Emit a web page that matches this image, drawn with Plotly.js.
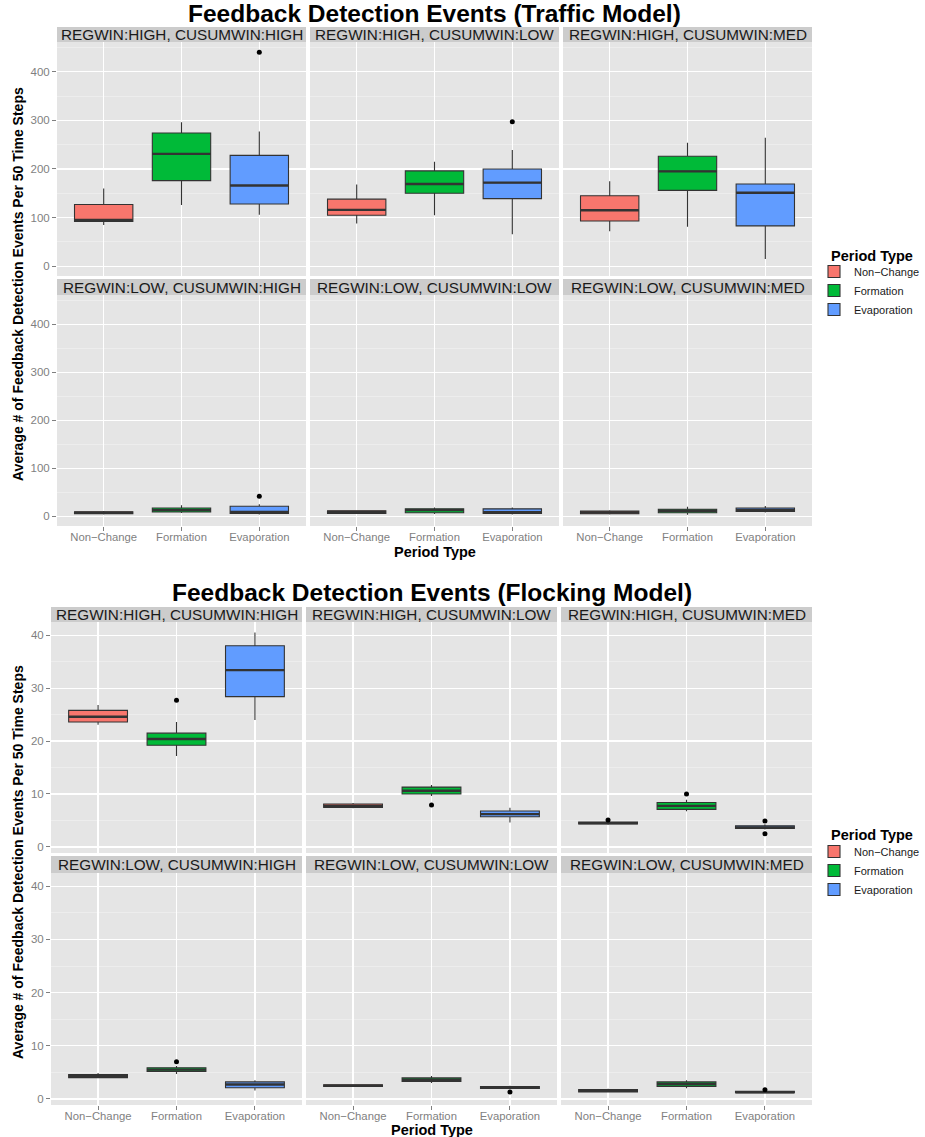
<!DOCTYPE html>
<html>
<head>
<meta charset="utf-8">
<script src="https://cdn.plot.ly/plotly-3.0.1.min.js"></script>
<style>html,body{margin:0;padding:0;background:#fff;}#chart{width:925px;height:1137px;}</style>
</head>
<body>
<div id="chart"></div>
<script>
// ---------------- DATA ----------------
const periodTypes = ['Non\u2212Change', 'Formation', 'Evaporation'];
const periodColors = ['#F8766D', '#00BA38', '#619CFF'];
const facetLabels = [
  'REGWIN:HIGH, CUSUMWIN:HIGH', 'REGWIN:HIGH, CUSUMWIN:LOW', 'REGWIN:HIGH, CUSUMWIN:MED',
  'REGWIN:LOW, CUSUMWIN:HIGH', 'REGWIN:LOW, CUSUMWIN:LOW', 'REGWIN:LOW, CUSUMWIN:MED'
];

// Traffic model: rows = facets, columns = period types
const trafficLower  = [[85, 126, 106], [88, 105, 66], [72, 81, 15], [4, 7, 4], [5, 5, 4], [4, 3.5, 8]];
const trafficQ1     = [[92, 176, 128], [105, 150, 139], [93, 156, 83], [5.5, 9, 6], [6.2, 7.5, 6.2], [5.5, 7.5, 10.5]];
const trafficMedian = [[95, 231, 166], [116, 169, 172], [115, 195, 151], [7.5, 13, 9], [9, 13, 8.5], [8, 11.6, 13.6]];
const trafficQ3     = [[127, 274, 228], [138, 196, 200], [145, 226, 169], [9.5, 17.5, 21], [11.6, 15.7, 15.7], [11, 15, 17.5]];
const trafficUpper  = [[160, 296, 277], [168, 215, 239], [175, 254, 264], [11, 23, 25.5], [13, 18.6, 18.6], [13, 20, 21.6]];
const trafficOutFacet = [0, 1, 3];
const trafficOutType  = [2, 2, 2];
const trafficOutValue = [440, 297, 42];

// Flocking model
const flockLower  = [[23.1, 17.2, 24.0], [7.3, 9.6, 4.6], [4.2, 6.75, 3.3], [3.9, 4.7, 1.6], [2.3, 3.0, 1.8], [1.2, 2.0, 1.05]];
const flockQ1     = [[23.6, 19.2, 28.4], [7.45, 10.0, 5.7], [4.35, 7.1, 3.5], [4.0, 5.15, 2.1], [2.35, 3.3, 1.95], [1.3, 2.35, 1.15]];
const flockMedian = [[24.6, 20.4, 33.4], [7.75, 10.6, 6.2], [4.5, 7.75, 3.7], [4.3, 5.5, 2.7], [2.5, 3.6, 2.1], [1.5, 2.8, 1.25]];
const flockQ3     = [[25.8, 21.5, 38.0], [8.1, 11.3, 6.8], [4.7, 8.4, 4.0], [4.6, 5.85, 3.2], [2.65, 3.95, 2.3], [1.75, 3.2, 1.45]];
const flockUpper  = [[26.8, 23.6, 40.5], [8.3, 11.7, 7.4], [4.85, 8.9, 4.3], [4.85, 6.2, 3.5], [2.75, 4.3, 2.45], [1.9, 3.5, 1.6]];
const flockOutFacet = [0, 1, 2, 2, 2, 2, 3, 4, 5];
const flockOutType  = [1, 1, 0, 1, 2, 2, 1, 2, 2];
const flockOutValue = [27.7, 7.9, 5.1, 10.0, 4.9, 2.5, 7.0, 1.3, 1.7];

const chartTitles = ['Feedback Detection Events (Traffic Model)', 'Feedback Detection Events (Flocking Model)'];
const yTitle = 'Average # of Feedback Detection Events Per 50 Time Steps';
const xTitle = 'Period Type';
const legendTitle = 'Period Type';

// ---------------- LAYOUT GEOMETRY (pixels) ----------------
const W = 925, H = 1137;
const fx = p => p / W;
const fy = p => 1 - p / H;
const FONT = 'Liberation Sans, Arial, Helvetica, sans-serif';

const charts = [
  {
    data: {lower: trafficLower, q1: trafficQ1, med: trafficMedian, q3: trafficQ3, upper: trafficUpper,
           oF: trafficOutFacet, oT: trafficOutType, oV: trafficOutValue},
    cols: [[57, 306], [310, 559], [563, 812]],
    rows: [{strip: [27, 42], plot: [42, 276]}, {strip: [279, 295], plot: [295, 526]}],
    yrange: [-20, 461], dtick: 100,
    titleY: 13.6, xTitleY: 551.5, yTitleY: 284, legendTitleY: 256, legendTop: 257, legend: 'legend'
  },
  {
    data: {lower: flockLower, q1: flockQ1, med: flockMedian, q3: flockQ3, upper: flockUpper,
           oF: flockOutFacet, oT: flockOutType, oV: flockOutValue},
    cols: [[51, 302], [306, 557], [561, 812]],
    rows: [{strip: [607, 622], plot: [622, 853]}, {strip: [856, 873], plot: [873, 1105]}],
    yrange: [-1.15, 42.5], dtick: 10,
    titleY: 592.5, xTitleY: 1129.5, yTitleY: 862, legendTitleY: 835, legendTop: 837, legend: 'legend2'
  }
];

const traces = [];
const layout = {
  width: W, height: H, autosize: false,
  margin: {l: 0, r: 0, t: 0, b: 0, pad: 0},
  paper_bgcolor: '#ffffff', plot_bgcolor: '#E5E5E5',
  font: {family: FONT, color: '#1a1a1a'},
  boxmode: 'overlay',
  shapes: [], annotations: [],
  hovermode: false
};

charts.forEach((ch, c) => {
  const d = ch.data;
  for (let f = 0; f < 6; f++) {
    const n = c * 6 + f + 1;
    const row = Math.floor(f / 3), col = f % 3;
    const xa = n === 1 ? 'x' : 'x' + n, ya = n === 1 ? 'y' : 'y' + n;
    const xk = n === 1 ? 'xaxis' : 'xaxis' + n, yk = n === 1 ? 'yaxis' : 'yaxis' + n;
    const cx = ch.cols[col], r = ch.rows[row];
    const bottom = row === 1, left = col === 0;

    layout[xk] = {
      domain: [fx(cx[0]), fx(cx[1])], anchor: ya, range: [-0.6, 2.6],
      tickvals: [0, 1, 2], ticktext: periodTypes, showticklabels: bottom,
      ticks: bottom ? 'outside' : '', ticklen: 4, tickcolor: '#7F7F7F', tickwidth: 1,
      ticklabelstandoff: -4,
      tickfont: {size: 11.3, color: '#7F7F7F', family: FONT},
      showgrid: true, gridcolor: '#FFFFFF', gridwidth: 1.3, zeroline: false, showline: false,
      fixedrange: true
    };
    layout[yk] = {
      domain: [fy(r.plot[1]), fy(r.plot[0])], anchor: xa, range: ch.yrange,
      tick0: 0, dtick: ch.dtick, showticklabels: left,
      ticks: left ? 'outside' : '', ticklen: 4, tickcolor: '#7F7F7F', tickwidth: 1,
      tickfont: {size: 11.5, color: '#7F7F7F', family: FONT},
      showgrid: true, gridcolor: '#FFFFFF', gridwidth: 1.3, zeroline: false, showline: false,
      minor: {dtick: ch.dtick / 2, tick0: 0, showgrid: true, gridcolor: '#F2F2F2', gridwidth: 0.6},
      fixedrange: true
    };

    // strip
    layout.shapes.push({type: 'rect', xref: 'paper', yref: 'paper',
      x0: fx(cx[0]), x1: fx(cx[1]), y0: fy(r.strip[1]), y1: fy(r.strip[0]),
      fillcolor: '#CCCCCC', line: {width: 0}, layer: 'below'});
    layout.annotations.push({xref: 'paper', yref: 'paper', x: fx((cx[0] + cx[1]) / 2),
      y: fy((r.strip[0] + r.strip[1]) / 2), text: facetLabels[f], showarrow: false,
      xanchor: 'center', yanchor: 'middle', font: {size: 15.3, color: '#1a1a1a', family: FONT}});

    // boxes
    for (let k = 0; k < 3; k++) {
      traces.push({
        type: 'box', x: [k], q1: [d.q1[f][k]], median: [d.med[f][k]], q3: [d.q3[f][k]],
        lowerfence: [d.lower[f][k]], upperfence: [d.upper[f][k]],
        width: 0.75, whiskerwidth: 0, boxpoints: false,
        fillcolor: periodColors[k], line: {color: '#333333', width: 1.1},
        name: periodTypes[k], legendgroup: 'g' + c + k, showlegend: f === 0,
        legend: ch.legend, xaxis: xa, yaxis: ya
      });
    }
    // thick median lines (ggplot style)
    const mx = [], my = [];
    for (let k = 0; k < 3; k++) {
      mx.push(k - 0.375, k + 0.375, null);
      my.push(d.med[f][k], d.med[f][k], null);
    }
    traces.push({type: 'scatter', mode: 'lines', x: mx, y: my, xaxis: xa, yaxis: ya,
      line: {color: '#333333', width: 2.4}, showlegend: false, cliponaxis: false});
    // outliers
    const ox = [], oy = [];
    d.oF.forEach((ff, i) => { if (ff === f) { ox.push(d.oT[i]); oy.push(d.oV[i]); } });
    if (ox.length) {
      traces.push({type: 'scatter', mode: 'markers', x: ox, y: oy, xaxis: xa, yaxis: ya,
        marker: {color: '#000000', size: 5}, showlegend: false});
    }
  }

  const plotLeft = ch.cols[0][0], plotRight = ch.cols[2][1];
  // main title
  layout.annotations.push({xref: 'paper', yref: 'paper', x: fx((plotLeft + plotRight) / 2), y: fy(ch.titleY),
    text: '<b>' + chartTitles[c] + '</b>', showarrow: false, xanchor: 'center', yanchor: 'middle',
    borderpad: 0, font: {size: 24.5, color: '#000000', family: FONT}});
  // x title
  layout.annotations.push({xref: 'paper', yref: 'paper', x: fx((plotLeft + plotRight) / 2), y: fy(ch.xTitleY),
    text: '<b>' + xTitle + '</b>', showarrow: false, xanchor: 'center', yanchor: 'middle',
    font: {size: 14.5, color: '#000000', family: FONT}});
  // y title
  layout.annotations.push({xref: 'paper', yref: 'paper', x: fx(18), y: fy(ch.yTitleY),
    text: '<b>' + yTitle + '</b>', showarrow: false, textangle: -90, xanchor: 'center', yanchor: 'middle',
    font: {size: 14, color: '#000000', family: FONT}});
  // legend title
  layout.annotations.push({xref: 'paper', yref: 'paper', x: fx(829), y: fy(ch.legendTitleY),
    text: '<b>' + legendTitle + '</b>', showarrow: false, xanchor: 'left', yanchor: 'middle',
    font: {size: 14.5, color: '#000000', family: FONT}});
  layout[ch.legend] = {
    x: fx(814), xanchor: 'left', y: fy(ch.legendTop), yanchor: 'top',
    bgcolor: 'rgba(0,0,0,0)', borderwidth: 0, itemwidth: 30, tracegroupgap: 0,
    traceorder: 'normal', font: {size: 11, color: '#1a1a1a', family: FONT},
    itemclick: false, itemdoubleclick: false
  };
});

Plotly.newPlot('chart', traces, layout, {staticPlot: true, displayModeBar: false});
</script>
</body>
</html>
